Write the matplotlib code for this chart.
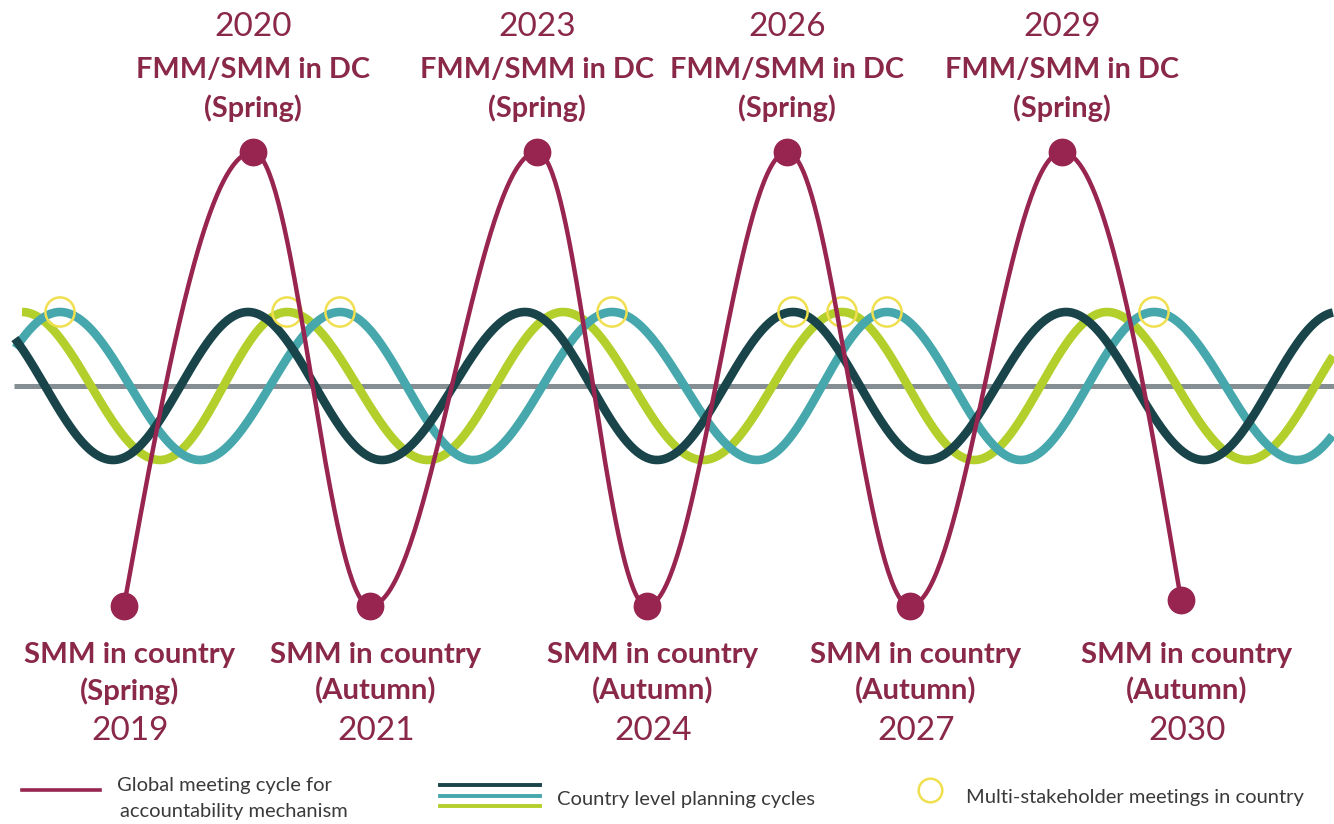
import numpy as np
import matplotlib.pyplot as plt

# timeline positions of the turning points (peaks / troughs)
dark_x = [-23, 113, 248, 382, 525, 657, 793, 927, 1066, 1204, 1338]
dark_level = [1, -1, 1, -1, 1, -1, 1, -1, 1, -1, 1]
lime_x = [22, 160, 287, 428, 563, 703, 842, 974, 1107, 1247, 1383]
lime_level = [1, -1, 1, -1, 1, -1, 1, -1, 1, -1, 1]
teal_x = [-75, 60, 200, 340, 473, 612, 757, 887, 1021, 1154, 1297, 1430]
teal_level = [-1, 1, -1, 1, -1, 1, -1, 1, -1, 1, -1, 1]

# global meeting cycle (maroon)
global_x = [124, 253, 370, 537, 647, 787, 910, 1062, 1181]
global_level = [-2.97, 3.16, -2.97, 3.16, -2.97, 3.16, -2.97, 3.16, -2.89]

# multi-stakeholder meetings in country (yellow rings)
msm_x = [60, 287, 340, 612, 793, 842, 887, 1154]
msm_level = [1, 1, 1, 1, 1, 1, 1, 1]

top_years = ["2020", "2023", "2026", "2029"]
top_label = "FMM/SMM in DC"
top_season = ["(Spring)", "(Spring)", "(Spring)", "(Spring)"]
bottom_years = ["2019", "2021", "2024", "2027", "2030"]
bottom_label = "SMM in country"
bottom_season = ["(Spring)", "(Autumn)", "(Autumn)", "(Autumn)", "(Autumn)"]

MAROON = "#97254f"
TEXT_MAROON = "#8a2848"
DARK = "#18444a"
TEAL = "#46a8ac"
LIME = "#b3cf2b"
GRAY = "#848e93"
YELLOW = "#f0df4e"
LEG_TEXT = "#3a3a3a"

plt.rcParams["font.family"] = ["Lato", "DejaVu Sans"]


def smooth(xs, levels, n=80, steep_ends=False):
    px, py = [], []
    last = len(xs) - 2
    for i in range(len(xs) - 1):
        t = np.linspace(0, 1, n)
        s = (1 - np.cos(np.pi * t)) / 2
        if steep_ends and i == 0:
            s = np.sin(np.pi / 2 * t)
        elif steep_ends and i == last:
            s = 1 - np.cos(np.pi / 2 * t)
        px.append(xs[i] + (xs[i + 1] - xs[i]) * t)
        py.append(levels[i] + (levels[i + 1] - levels[i]) * s)
    px = np.concatenate(px)
    py = np.concatenate(py)
    keep = (px >= 14) & (px <= 1334)
    return px[keep], py[keep]


fig = plt.figure(figsize=(13.34, 8.24), dpi=100)
ax = fig.add_axes([0, 0, 1, 1])
ax.set_xlim(0, 1334)
ax.set_ylim(-(824 - 386) / 74, 386 / 74)
ax.axis("off")

ax.plot([14, 1334], [0, 0], color=GRAY, lw=3.6, solid_capstyle="butt", zorder=1)

for xs, lv, col, z in [(lime_x, lime_level, LIME, 2),
                       (teal_x, teal_level, TEAL, 3),
                       (dark_x, dark_level, DARK, 4)]:
    x, y = smooth(xs, lv)
    ax.plot(x, y, color=col, lw=6.2, solid_capstyle="butt", zorder=z)

ax.scatter(msm_x, msm_level, s=21 ** 2, facecolors="none",
           edgecolors=YELLOW, linewidths=1.8, zorder=5)

gx, gy = smooth(global_x, global_level, steep_ends=True)
ax.plot(gx, gy, color=MAROON, lw=3.2, zorder=6)
ax.plot(global_x, global_level, "o", color=MAROON, ms=19, zorder=7)

# labels and legend in pixel coordinates
lay = fig.add_axes([0, 0, 1, 1])
lay.set_xlim(0, 1334)
lay.set_ylim(824, 0)
lay.axis("off")
lay.patch.set_alpha(0)

for i, yr in enumerate(top_years):
    cx = global_x[2 * i + 1]
    lay.text(cx, 27, yr, ha="center", va="center", fontsize=24, color=TEXT_MAROON)
    lay.text(cx, 70, top_label, ha="center", va="center", fontsize=20.8,
             fontweight="bold", color=TEXT_MAROON)
    lay.text(cx, 108, top_season[i], ha="center", va="center", fontsize=20.8,
             fontweight="bold", color=TEXT_MAROON)

for i, yr in enumerate(bottom_years):
    cx = global_x[2 * i] + 6
    lay.text(cx, 655, bottom_label, ha="center", va="center", fontsize=21.2,
             fontweight="bold", color=TEXT_MAROON)
    lay.text(cx, 691, bottom_season[i], ha="center", va="center", fontsize=21.2,
             fontweight="bold", color=TEXT_MAROON)
    lay.text(cx, 731, yr, ha="center", va="center", fontsize=24, color=TEXT_MAROON)

# legend
lay.plot([22, 100], [790, 790], color=MAROON, lw=2.6)
lay.text(117, 786, "Global meeting cycle for", ha="left", va="center",
         fontsize=14.5, color=LEG_TEXT)
lay.text(120, 812, "accountability mechanism", ha="left", va="center",
         fontsize=14.5, color=LEG_TEXT)
for yy, col in [(785, DARK), (796, TEAL), (806, LIME)]:
    lay.plot([440, 540], [yy, yy], color=col, lw=2.8)
lay.text(557, 800, "Country level planning cycles", ha="left", va="center",
         fontsize=14.5, color=LEG_TEXT)
lay.plot([930], [790], "o", ms=17, mfc="none", mec=YELLOW, mew=1.8)
lay.text(966, 797, "Multi-stakeholder meetings in country", ha="left", va="center",
         fontsize=14.5, color=LEG_TEXT)

fig.savefig("out.png", dpi=100)
